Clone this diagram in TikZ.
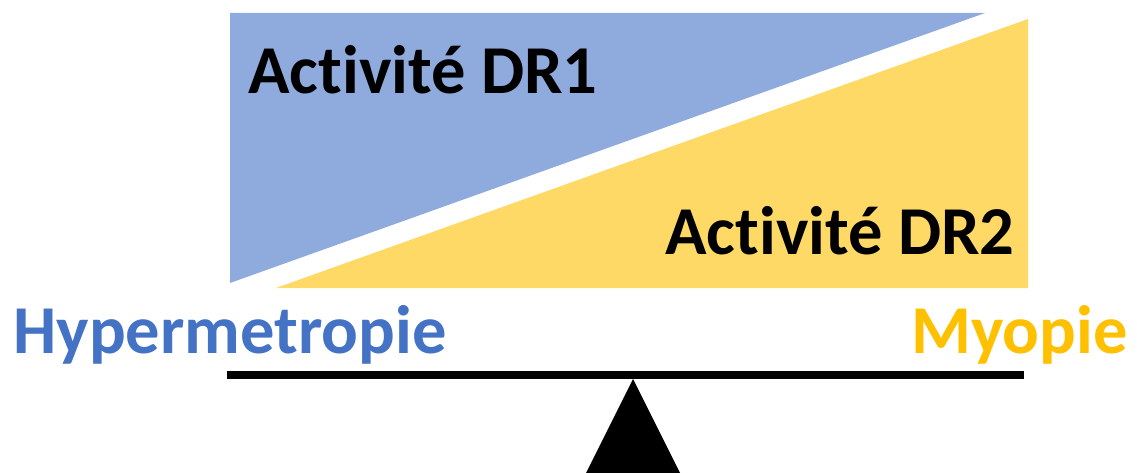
\documentclass[tikz,border=0pt]{standalone}
\usepackage{fontspec}
\setmainfont[RawFeature={-liga;-clig;-calt;-dlig}]{Carlito}
\definecolor{drblue}{HTML}{8FAADC}
\definecolor{dryellow}{HTML}{FFD966}
\definecolor{hyperblue}{HTML}{4472C4}
\definecolor{myoyellow}{HTML}{FFC000}
\tikzset{>=latex}
\tikzset{
  zone/.style={inner sep=0pt,font=\fontsize{39}{47}\selectfont\bfseries},
  side/.style={inner sep=0pt,font=\fontsize{39}{47}\selectfont\bfseries},
}

\begin{document}
\begin{tikzpicture}[x=0.02cm,y=-0.02cm]
	\useasboundingbox (0,0) rectangle (1137,473);
	\fill[drblue] (230,13) -- (985,13) -- (230,283) -- cycle;
	\fill[dryellow] (1028,19) -- (1028,288) -- (276,288) -- cycle;

	\node[zone,anchor=base west] (dr1) at (248,94) {Activité DR1};
	\node[zone,anchor=base east] (dr2) at (1015,255) {Activité DR2};
	\node[side,anchor=base west,text=hyperblue] (hyper) at (13,353) {Hypermetropie};
	\node[side,anchor=base east,text=myoyellow] (myo) at (1128,353) {Myopie};

	\coordinate (beamL) at (227,375);
	\coordinate (beamR) at (1024,375);
	\draw[line width=4.5pt] (beamL) -- (beamR);
	\fill[black] (633,379) -- (680,473) -- (586,473) -- cycle;
\end{tikzpicture}
\end{document}
